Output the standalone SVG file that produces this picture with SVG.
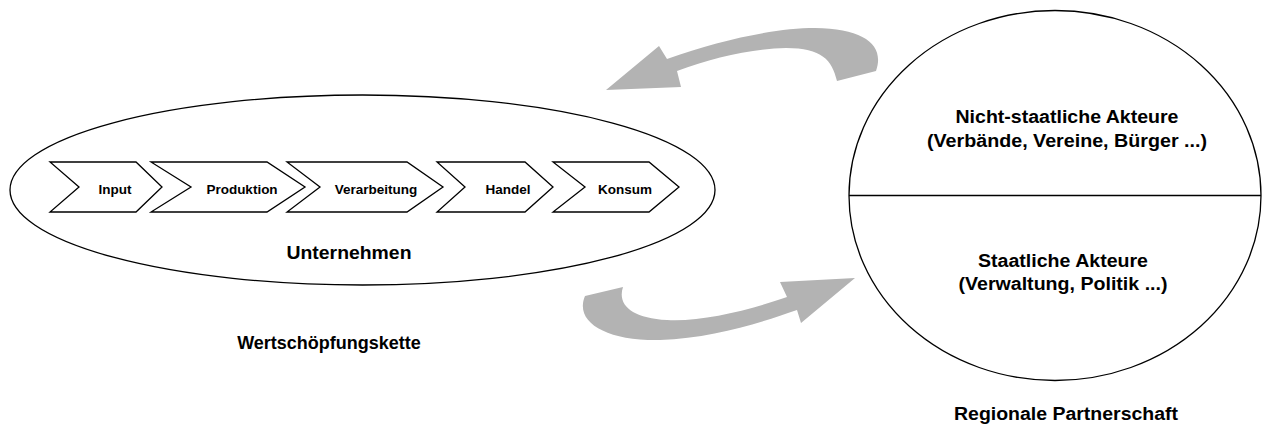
<svg xmlns="http://www.w3.org/2000/svg" width="1265" height="427" viewBox="0 0 1265 427">
  <style>
    .outline { fill: none; stroke: #000; stroke-width: 1.3; }
    .step { fill: #fff; stroke: #000; stroke-width: 1.3; stroke-linejoin: miter; }
    .flow { fill: #b3b3b3; stroke: none; }
    text { font-family: "Liberation Sans", Arial, sans-serif; font-weight: bold; fill: #000; text-anchor: middle; }
    .small { font-size: 13.5px; }
    .label { font-size: 18px; }
  </style>

  <!-- Enterprise value chain -->
  <g id="unternehmen">
    <ellipse class="outline" cx="362.5" cy="190" rx="352.5" ry="95"/>
    <text class="label" x="349" y="259" textLength="125" lengthAdjust="spacingAndGlyphs">Unternehmen</text>
  </g>

  <g id="step-input">
    <polygon class="step" points="50,162 136,162 162,187 136,212 50,212 79,187"/>
    <text class="small" x="115" y="194">Input</text>
  </g>
  <g id="step-produktion">
    <polygon class="step" points="151,162 267,162 305,187 267,212 151,212 191,187"/>
    <text class="small" x="242" y="194">Produktion</text>
  </g>
  <g id="step-verarbeitung">
    <polygon class="step" points="287,162 407,162 443,187 407,212 287,212 320,187"/>
    <text class="small" x="376" y="194">Verarbeitung</text>
  </g>
  <g id="step-handel">
    <polygon class="step" points="437,162 525,162 553,187 525,212 437,212 465,187"/>
    <text class="small" x="508" y="194">Handel</text>
  </g>
  <g id="step-konsum">
    <polygon class="step" points="553,162 649,162 679,187 649,212 553,212 585,187"/>
    <text class="small" x="625" y="194">Konsum</text>
  </g>

  <g id="caption-kette">
    <text class="label" x="329" y="349">Wertschöpfungskette</text>
  </g>

  <!-- Regional partnership -->
  <g id="partnerschaft">
    <ellipse class="outline" cx="1055" cy="195.5" rx="206" ry="185"/>
    <line class="outline" x1="849" y1="195.5" x2="1261" y2="195.5"/>
  </g>
  <g id="nichtstaatlich">
    <text class="label" x="1067" y="123" textLength="223" lengthAdjust="spacingAndGlyphs">Nicht-staatliche Akteure</text>
    <text class="label" x="1067" y="147" textLength="280" lengthAdjust="spacingAndGlyphs">(Verbände, Vereine, Bürger ...)</text>
  </g>
  <g id="staatlich">
    <text class="label" x="1063" y="267" textLength="170" lengthAdjust="spacingAndGlyphs">Staatliche Akteure</text>
    <text class="label" x="1063" y="290" textLength="209" lengthAdjust="spacingAndGlyphs">(Verwaltung, Politik ...)</text>
  </g>
  <g id="caption-partnerschaft">
    <text class="label" x="1066" y="420" textLength="224" lengthAdjust="spacingAndGlyphs">Regionale Partnerschaft</text>
  </g>

  <!-- Curved exchange arrows -->
  <g id="connectors">
    <path class="flow" d="M 667,59 C 720,40 775,28 815,28 C 865,29 885,45 876,71 L 837,81 C 832,60 822,48 786,48 C 750,49 712,58 677,71 L 681,87 L 606,90 L 659,46 Z"/>
    <path class="flow" d="M 787,297 C 750,310 702,322 667,320 C 632,318 617,305 623,287 L 585,296 C 574,322 606,341 660,340 C 712,338 760,323 797,310 L 801,323 L 855,278 L 780,282 Z"/>
  </g>
</svg>
